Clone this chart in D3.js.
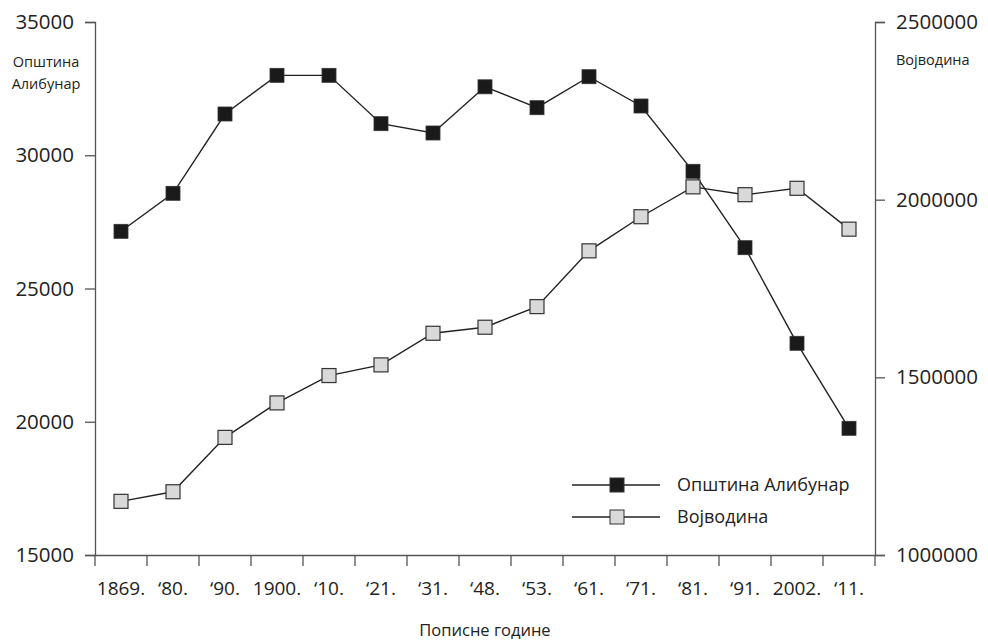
<!DOCTYPE html>
<html>
<head>
<meta charset="utf-8">
<script src="https://cdn.jsdelivr.net/npm/d3@7"></script>
<style>
    body { margin: 0; background: #fff; }
    text { font-family: "Open Sans", "Noto Sans", sans-serif; fill: #222; }
</style>
</head>
<body>
<script>

// census years (x categories)
var years = ["1869.", "\u201880.", "\u201890.", "1900.", "\u201810.", "\u201821.", "\u201831.", "\u201848.",
             "\u201853.", "\u201861.", "\u201871.", "\u201881.", "\u201891.", "2002.", "\u201811."];

// population of Alibunar municipality (left axis)
var alibunar = [27146, 28572, 31548, 32999, 32999, 31184, 30835, 32568,
                31784, 32947, 31848, 29398, 26531, 22944, 19754];

// population of Vojvodina (right axis)
var vojvodina = [1151000, 1178000, 1331000, 1428000, 1505000, 1535000, 1624000, 1641000,
                 1699000, 1856000, 1952000, 2036000, 2014000, 2032000, 1917000];

var leftTicks = [15000, 20000, 25000, 30000, 35000];
var rightTicks = [1000000, 1500000, 2000000, 2500000];

var seriesNames = ["Општина Алибунар", "Војводина"];

// dimensions
var width = 988, height = 642;
var margin = { top: 22, right: 113, bottom: 87, left: 95 };
var innerW = width - margin.left - margin.right;
var innerH = height - margin.top - margin.bottom;

var svg = d3.select("body").append("svg")
    .attr("width", width)
    .attr("height", height);

var g = svg.append("g")
    .attr("transform", "translate(" + margin.left + "," + margin.top + ")");

// scales
var x = d3.scaleBand().domain(years).range([0, innerW]);
var yLeft = d3.scaleLinear().domain([15000, 35000]).range([innerH, 0]);
var yRight = d3.scaleLinear().domain([1000000, 2500000]).range([innerH, 0]);

var axisColor = "#555";

// left axis
var leftAxis = g.append("g")
    .call(d3.axisLeft(yLeft).tickValues(leftTicks).tickSize(10).tickPadding(11).tickFormat(d3.format("d")));
leftAxis.selectAll("text").style("font-size", "20.5px").attr("fill", "#222");

// right axis
var rightAxis = g.append("g")
    .attr("transform", "translate(" + innerW + ",0)")
    .call(d3.axisRight(yRight).tickValues(rightTicks).tickSize(10).tickPadding(11).tickFormat(d3.format("d")));
rightAxis.selectAll("text").style("font-size", "20.5px").attr("fill", "#222");

// x axis, ticks on band boundaries
var xAxis = g.append("g")
    .attr("transform", "translate(0," + innerH + ")")
    .call(d3.axisBottom(x).tickSize(0).tickPadding(27));
xAxis.selectAll("text").style("font-size", "19px").attr("fill", "#222");
xAxis.selectAll(".boundary")
    .data(d3.range(years.length + 1))
    .enter().append("line")
    .attr("x1", function(i) { return i * x.step(); })
    .attr("x2", function(i) { return i * x.step(); })
    .attr("y1", 0)
    .attr("y2", 11)
    .attr("stroke", axisColor);

g.selectAll(".domain").attr("stroke", axisColor).attr("stroke-width", 1.3);
g.selectAll(".tick line").attr("stroke", axisColor).attr("stroke-width", 1.3);
xAxis.selectAll("line").attr("stroke-width", 1.3);

// axis titles
svg.append("text").attr("x", 46).attr("y", 67).attr("text-anchor", "middle")
    .style("font-size", "14.5px").text("Општина");
svg.append("text").attr("x", 46).attr("y", 89).attr("text-anchor", "middle")
    .style("font-size", "14.5px").text("Алибунар");
svg.append("text").attr("x", 896).attr("y", 65).attr("text-anchor", "start")
    .style("font-size", "14.5px").text("Војводина");
svg.append("text").attr("x", 485).attr("y", 636).attr("text-anchor", "middle")
    .style("font-size", "16.5px").text("Пописне године");

var cx = function(d, i) { return x(years[i]) + x.bandwidth() / 2; };

// lines
var lineLeft = d3.line().x(cx).y(function(d) { return yLeft(d); });
var lineRight = d3.line().x(cx).y(function(d) { return yRight(d); });

g.append("path").datum(vojvodina)
    .attr("d", lineRight).attr("fill", "none").attr("stroke", "#222").attr("stroke-width", 1.4);
g.append("path").datum(alibunar)
    .attr("d", lineLeft).attr("fill", "none").attr("stroke", "#222").attr("stroke-width", 1.4);

var sq = 14;

g.selectAll(".vojMark").data(vojvodina).enter().append("rect")
    .attr("x", function(d, i) { return cx(d, i) - sq / 2; })
    .attr("y", function(d) { return yRight(d) - sq / 2; })
    .attr("width", sq).attr("height", sq)
    .attr("fill", "#d9d9d9").attr("stroke", "#333").attr("stroke-width", 1.2);

g.selectAll(".aliMark").data(alibunar).enter().append("rect")
    .attr("x", function(d, i) { return cx(d, i) - sq / 2; })
    .attr("y", function(d) { return yLeft(d) - sq / 2; })
    .attr("width", sq).attr("height", sq)
    .attr("fill", "#1a1a1a").attr("stroke", "#333").attr("stroke-width", 0.8);

// legend
var legendFill = ["#1a1a1a", "#d9d9d9"];
var legend = svg.selectAll(".legend").data(seriesNames).enter().append("g")
    .attr("transform", function(d, i) { return "translate(572," + (485 + i * 32) + ")"; });
legend.append("line").attr("x1", 0).attr("x2", 88).attr("y1", 0).attr("y2", 0)
    .attr("stroke", "#222").attr("stroke-width", 1.4);
legend.append("rect").attr("x", 45 - sq / 2).attr("y", -sq / 2).attr("width", sq).attr("height", sq)
    .attr("fill", function(d, i) { return legendFill[i]; })
    .attr("stroke", "#333").attr("stroke-width", 1);
legend.append("text").attr("x", 105).attr("y", 0).attr("dy", "0.35em")
    .style("font-size", "18px").text(function(d) { return d; });

</script>
</body>
</html>
